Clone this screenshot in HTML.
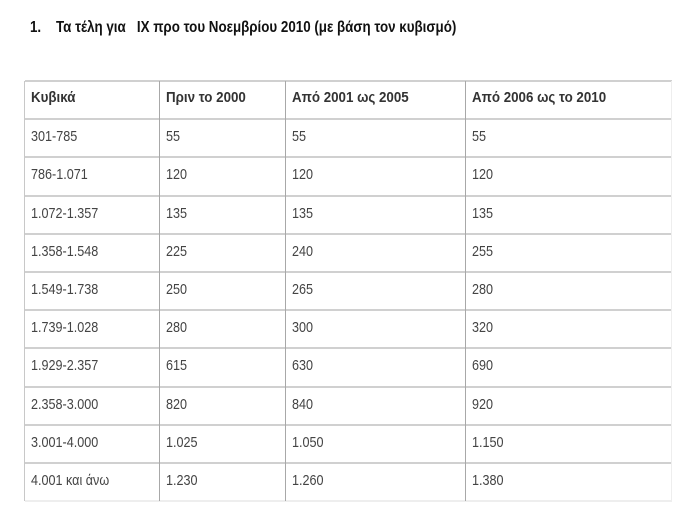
<!DOCTYPE html>
<html><head><meta charset="utf-8"><style>
body{margin:0;width:695px;height:527px;background:#fff;position:relative;overflow:hidden;font-family:"Liberation Sans",sans-serif;}
.t{position:absolute;left:30px;top:19px;font-size:16px;font-weight:bold;color:#111;white-space:pre;transform:scaleX(0.835);transform-origin:0 0;}
.h{position:absolute;height:0;border-top:2px solid #d0d0d0;}
.v{position:absolute;width:0;border-left:1.5px solid #a8a8a8;}
.c{position:absolute;font-size:15px;color:#444;white-space:nowrap;transform:scaleX(0.84);transform-origin:0 0;}
.b{font-weight:bold;color:#333;font-size:14.5px;transform:scaleX(0.92);}
</style></head><body>
<div class="t">1.    Τα τέλη για   ΙΧ προ του Νοεμβρίου 2010 (με βάση τον κυβισμό)</div>
<div id="g"></div>
<script>
var rows=[["Κυβικά","Πριν το 2000","Από 2001 ως 2005","Από 2006 ως το 2010"],
["301-785","55","55","55"],["786-1.071","120","120","120"],["1.072-1.357","135","135","135"],
["1.358-1.548","225","240","255"],["1.549-1.738","250","265","280"],["1.739-1.028","280","300","320"],
["1.929-2.357","615","630","690"],["2.358-3.000","820","840","920"],["3.001-4.000","1.025","1.050","1.150"],
["4.001 και άνω","1.230","1.260","1.380"]];
var xs=[25,160,286,466,672],top0=81,rh=38.2,h="";
for(var i=0;i<=11;i++){h+='<div class="h" style="left:25px;width:647px;top:'+(top0+i*rh-1)+'px;'+(i==11?'border-top-color:#eee':'')+'"></div>';}
for(var j=0;j<5;j++){h+='<div class="v" style="left:'+(xs[j]-1)+'px;top:'+top0+'px;height:420px;'+(j==4?'border-left-color:#eee':'')+(j==0?'border-left-color:#c8c8c8':'')+'"></div>';}
for(var i=0;i<rows.length;i++)for(var j=0;j<4;j++){h+='<div class="c'+(i==0?' b':'')+'" style="left:'+(xs[j]+6)+'px;top:'+(top0+i*rh+9)+'px">'+rows[i][j]+'</div>';}
document.getElementById("g").innerHTML=h;
</script>
</body></html>
